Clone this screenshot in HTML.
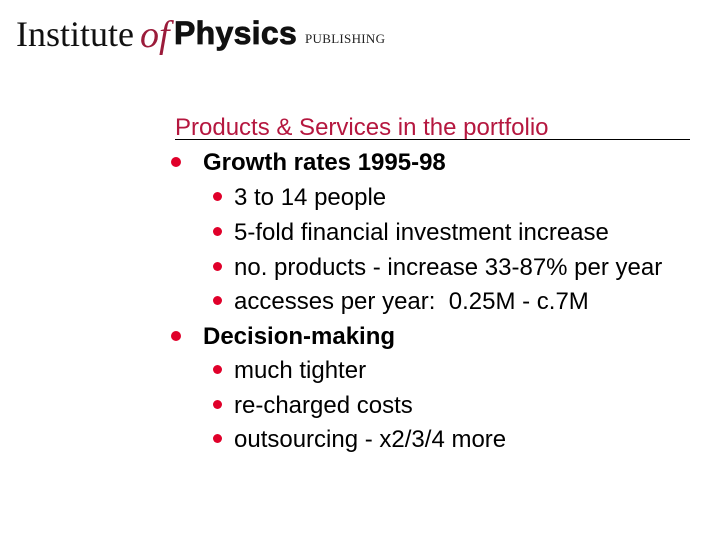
<!DOCTYPE html>
<html><head><meta charset="utf-8"><style>
body{margin:0;width:720px;height:540px;background:#fff;position:relative;overflow:hidden;font-family:"Liberation Sans",sans-serif}
.a{position:absolute;white-space:nowrap;line-height:1}
.t{font-size:24px;color:#b5173f}
.l1{font-size:24px;font-weight:bold;color:#000}
.l2{font-size:24px;color:#000}
.d{position:absolute;border-radius:50%;background:#e0002a}
</style></head><body>
<div class="a" style="left:16px;top:16px;font-family:'Liberation Serif',serif;font-size:36px;color:#111">Institute</div>
<div class="a" style="left:140px;top:16px;font-family:'Liberation Serif',serif;font-style:italic;font-size:38px;color:#9b1b3a">of</div>
<div class="a" style="left:174px;top:17px;font-weight:bold;font-size:32px;color:#111;-webkit-text-stroke:0.8px #111;letter-spacing:0.3px">Physics</div>
<div class="a" style="left:305px;top:32px;font-family:'Liberation Serif',serif;font-size:13px;color:#222;letter-spacing:0.3px">PUBLISHING</div>

<div class="a t" style="left:175px;top:116px">Products &amp; Services in the portfolio</div>
<div style="position:absolute;left:175px;top:139px;width:515px;height:1px;background:#000"></div>

<div class="d" style="left:171px;top:157px;width:10px;height:10px"></div>
<div class="a l1" style="left:203px;top:151px">Growth rates 1995-98</div>
<div class="d" style="left:213px;top:192px;width:9px;height:9px"></div>
<div class="a l2" style="left:234px;top:186px">3 to 14 people</div>
<div class="d" style="left:213px;top:227px;width:9px;height:9px"></div>
<div class="a l2" style="left:234px;top:221px">5-fold financial investment increase</div>
<div class="d" style="left:213px;top:262px;width:9px;height:9px"></div>
<div class="a l2" style="left:234px;top:256px">no. products - increase 33-87% per year</div>
<div class="d" style="left:213px;top:296px;width:9px;height:9px"></div>
<div class="a l2" style="left:234px;top:290px">accesses per year:&nbsp; 0.25M - c.7M</div>

<div class="d" style="left:171px;top:331px;width:10px;height:10px"></div>
<div class="a l1" style="left:203px;top:325px">Decision-making</div>
<div class="d" style="left:213px;top:365px;width:9px;height:9px"></div>
<div class="a l2" style="left:234px;top:359px">much tighter</div>
<div class="d" style="left:213px;top:400px;width:9px;height:9px"></div>
<div class="a l2" style="left:234px;top:394px">re-charged costs</div>
<div class="d" style="left:213px;top:434px;width:9px;height:9px"></div>
<div class="a l2" style="left:234px;top:428px">outsourcing - x2/3/4 more</div>
</body></html>
